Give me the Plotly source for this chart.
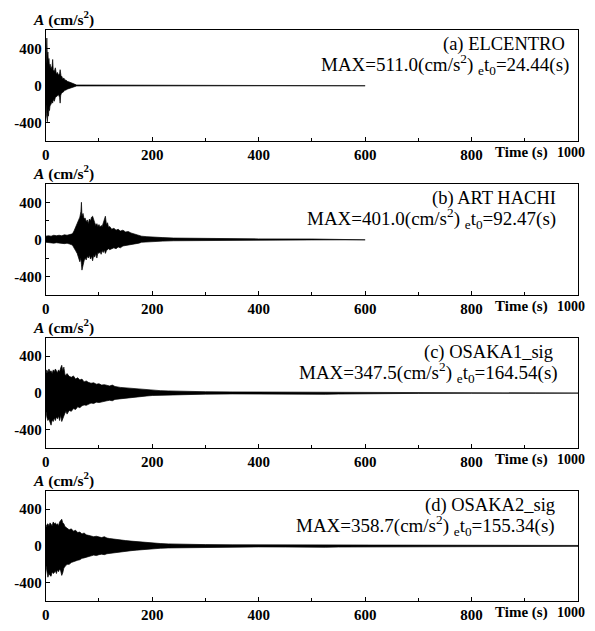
import plotly.graph_objects as go

# ---------------- data (envelope of each record) ----------------
t_a = [0, 1, 2, 3, 4, 5, 6, 7, 8, 10, 12, 13, 14, 16, 18, 20, 22, 24, 26, 27, 28, 29, 30, 32, 34, 36, 38, 40,
       43, 46, 49, 52, 55, 58, 600]
up_a = [150, 420, 510, 300, 360, 250, 290, 200, 230, 180, 210, 280, 170, 150, 190, 120, 140, 110, 130, 170, 110,
        90, 100, 70, 80, 55, 60, 45, 40, 35, 25, 20, 12, 5, 3]
lo_a = [-120, -300, -350, -390, -300, -330, -250, -270, -220, -200, -170, -190, -150, -170, -130, -120, -110, -100,
        -130, -190, -110, -90, -80, -70, -65, -50, -50, -40, -35, -30, -25, -18, -10, -5, -3]

t_b = [0, 5, 10, 15, 20, 25, 30, 35, 40, 45, 50, 53, 56, 59, 62, 64, 66, 67, 68, 70, 72, 74, 76, 78, 80, 82, 84,
       86, 88, 90, 92, 94, 96, 98, 100, 102, 104, 106, 108, 110, 112, 114, 116, 118, 120, 124, 128, 132, 136, 140,
       145, 150, 155, 160, 165, 170, 175, 180, 190, 200, 220, 240, 270, 300, 400, 500, 600]
up_b = [35, 40, 35, 45, 40, 45, 40, 50, 45, 55, 60, 90, 130, 160, 200, 240, 300, 400, 250, 280, 220, 230, 190, 210,
        170, 220, 200, 240, 250, 200, 180, 150, 170, 140, 160, 130, 150, 140, 170, 200, 250, 160, 180, 130, 140, 110,
        120, 100, 110, 90, 100, 80, 85, 70, 60, 50, 40, 35, 30, 25, 20, 15, 12, 8, 6, 5, 4]
lo_b = [-30, -35, -35, -40, -35, -40, -40, -45, -40, -50, -60, -90, -120, -150, -190, -240, -200, -270, -330, -300,
        -230, -200, -220, -180, -200, -170, -210, -180, -230, -170, -190, -150, -200, -140, -150, -130, -160, -120,
        -140, -110, -150, -120, -110, -100, -110, -100, -90, -100, -80, -90, -70, -70, -60, -60, -50, -45, -40, -30,
        -28, -22, -18, -14, -10, -8, -6, -5, -4]

t_c = [0, 2, 4, 6, 8, 10, 12, 14, 16, 18, 20, 22, 24, 26, 28, 30, 32, 34, 36, 38, 40,
       44, 48, 52, 56, 60, 64, 68, 72, 76, 80,
       85, 90, 95, 100, 105, 110, 115, 120, 125, 130,
       140, 150, 160, 170, 180, 190, 200,
       215, 230, 250, 275, 300,
       350, 400, 450, 475, 500, 525, 550, 565,
       600, 700, 800, 900, 920, 1000]
up_c = [200, 250, 220, 260, 230, 240, 210, 250, 230, 260, 240, 220, 250, 230, 270, 300, 240, 280, 200, 190, 210,
        180, 170, 185, 150, 165, 140, 150, 120, 130, 115,
        105, 110, 95, 100, 85, 90, 80, 75, 85, 70,
        60, 55, 50, 45, 38, 33, 28,
        25, 22, 18, 15, 13,
        11, 10, 10, 12, 14, 15, 12, 8,
        6, 5, 4, 4, 3, 2]
lo_c = [-180, -260, -300, -280, -320, -350, -290, -310, -270, -300, -260, -280, -250, -300, -240, -310, -290, -250,
        -220, -200, -230,
        -190, -200, -170, -180, -150, -160, -140, -130, -135, -120,
        -110, -115, -100, -105, -95, -90, -85, -80, -85, -70,
        -62, -55, -50, -45, -38, -33, -28,
        -25, -22, -18, -15, -13,
        -11, -10, -10, -12, -14, -15, -12, -8,
        -6, -5, -4, -4, -3, -2]

t_d = t_c
up_d = [190, 230, 240, 220, 250, 230, 220, 260, 240, 250, 230, 240, 220, 260, 280, 290, 250, 240, 210, 200, 190,
        175, 185, 160, 170, 145, 150, 130, 140, 120, 115,
        110, 100, 105, 95, 90, 100, 85, 80, 75, 70,
        65, 58, 52, 46, 40, 35, 30,
        26, 22, 19, 16, 14,
        12, 11, 12, 14, 16, 15, 12, 9,
        7, 6, 6, 5, 5, 5]
lo_d = [-200, -280, -340, -300, -320, -330, -280, -300, -290, -270, -300, -260, -280, -250, -270, -320, -290, -240,
        -230, -210, -200,
        -200, -180, -175, -165, -155, -150, -135, -130, -125, -115,
        -110, -100, -105, -95, -90, -95, -85, -80, -75, -72,
        -65, -58, -52, -46, -40, -35, -30,
        -26, -22, -19, -16, -14,
        -12, -11, -12, -14, -16, -15, -12, -9,
        -7, -6, -6, -5, -5, -5]

titles = ["(a) ELCENTRO", "(b) ART HACHI", "(c) OSAKA1_sig", "(d) OSAKA2_sig"]
max_vals = ["511.0", "401.0", "347.5", "358.7"]
t0_vals = ["24.44", "92.47", "164.54", "155.34"]
x_ticks = [0, 200, 400, 600, 800, 1000]
x_tick_labels = ["0", "200", "400", "600", "800", "1000"]
y_ticks = [-400, 0, 400]
y_tick_labels = ["-400", "0", "400"]

# ---------------- layout ----------------
# the page body keeps its default 8px margin, so the figure is made 16px smaller
OFF = 8
PAGE_W, PAGE_H = 595, 631
W, H = PAGE_W - 2 * OFF, PAGE_H - 2 * OFF
FONT = "Liberation Serif, Times New Roman, serif"
tops = [30, 186, 342, 497]
bottoms = [143, 299, 454, 609]
title_right = [(567, 571), (558, 558), (555, 560), (557, 557)]
x0, x1 = 42, 578
TICK_SIZE = 15


def px(x):
    return (x - OFF) / W


def py(y):
    return 1 - (y - OFF) / H


series = [(t_a, up_a, lo_a), (t_b, up_b, lo_b), (t_c, up_c, lo_c), (t_d, up_d, lo_d)]

fig = go.Figure()
layout = dict(width=W, height=H, margin=dict(l=0, r=0, t=0, b=0, pad=0),
              paper_bgcolor="white", plot_bgcolor="white", showlegend=False,
              font=dict(family=FONT, size=15, color="black"))
annotations = []
tickfont = dict(family=FONT, size=TICK_SIZE, color="black", weight="bold")

for i, (t, up, lo) in enumerate(series):
    n = "" if i == 0 else str(i + 1)
    xs = list(t) + list(t)[::-1]
    ys = list(up) + list(lo)[::-1]
    fig.add_trace(go.Scatter(x=xs, y=ys, mode="lines", fill="toself", fillcolor="black",
                             line=dict(color="black", width=0.7), hoverinfo="skip",
                             xaxis="x" + n, yaxis="y" + n))
    top, bot = tops[i], bottoms[i]
    layout["xaxis" + n] = dict(
        domain=[px(x0), px(x1)], range=[0, 1000], anchor="y" + n,
        showline=True, mirror=True, linecolor="black", linewidth=1.2,
        showgrid=False, zeroline=False,
        tickmode="array", tickvals=x_ticks, ticktext=x_tick_labels[:-1] + [""],
        ticks="inside", ticklen=4, tickcolor="black",
        minor=dict(dtick=100, ticks="inside", ticklen=3, tickcolor="black", showgrid=False),
        tickfont=tickfont)
    layout["yaxis" + n] = dict(
        domain=[py(bot), py(top)], range=[-600, 600], anchor="x" + n,
        showline=True, mirror=True, linecolor="black", linewidth=1.2,
        showgrid=False, zeroline=False,
        tickmode="array", tickvals=y_ticks, ticktext=y_tick_labels,
        ticks="inside", ticklen=4, tickcolor="black",
        minor=dict(dtick=200, ticks="inside", ticklen=3, tickcolor="black", showgrid=False),
        tickfont=tickfont)

    # last x tick label sits at the page edge: drawn as a right-anchored text
    annotations.append(dict(xref="paper", yref="paper", x=px(587), y=py(bot + 11),
                            xanchor="right", yanchor="middle", showarrow=False,
                            text="<b>" + x_tick_labels[-1] + "</b>", font=dict(family=FONT, size=14)))
    annotations.append(dict(xref="paper", yref="paper", x=px(27), y=py(top - 11),
                            xanchor="left", yanchor="middle", showarrow=False,
                            text="<b><i>A</i> (cm/s<sup>2</sup>)</b>", font=dict(family=FONT, size=15.5)))
    annotations.append(dict(xref="paper", yref="paper", x=px(title_right[i][0]), y=py(top + 15),
                            xanchor="right", yanchor="middle", showarrow=False,
                            text=titles[i], font=dict(family=FONT, size=18.5)))
    annotations.append(dict(xref="paper", yref="paper", x=px(title_right[i][1]), y=py(top + 35),
                            xanchor="right", yanchor="middle", showarrow=False,
                            text="MAX=" + max_vals[i] + "(cm/s<sup>2</sup>)\u00a0<sub>e</sub>t<sub>0</sub>=" + t0_vals[i] + "(s)",
                            font=dict(family=FONT, size=19)))
    annotations.append(dict(xref="paper", yref="paper", x=px(521), y=py(bot + 11),
                            xanchor="center", yanchor="middle", showarrow=False,
                            text="<b>Time (s)</b>", font=dict(family=FONT, size=15)))

layout["annotations"] = annotations
fig.update_layout(**layout)
fig.write_html("out.html", config={"displayModeBar": False})
